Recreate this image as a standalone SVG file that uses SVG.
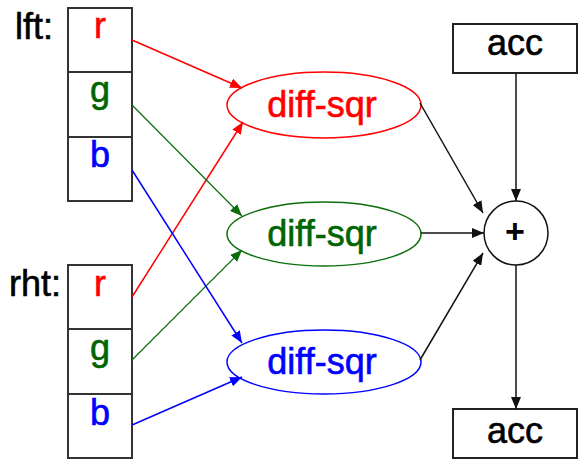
<svg xmlns="http://www.w3.org/2000/svg" width="580" height="461" viewBox="0 0 580 461">
  <style>
    text { font-family: "Liberation Sans", Arial, sans-serif; font-size: 36px; stroke: currentColor; stroke-width: 0.6px; }
    .mid { text-anchor: middle; }
    .cell { fill: #fff; stroke: #333; stroke-width: 2; }
    .box { fill: #fff; stroke: #222; stroke-width: 2; }
    .red { fill: #ff0000; color: #ff0000; }
    .grn { fill: #006400; color: #006400; }
    .blu { fill: #0000ff; color: #0000ff; }
    .blk { fill: #000; color: #000; }
    .lr { stroke: #ff0000; stroke-width: 1.5; fill: none; }
    .lg { stroke: #0b6e0b; stroke-width: 1.2; fill: none; }
    .lb { stroke: #0000ff; stroke-width: 1.5; fill: none; }
    .lk { stroke: #111; stroke-width: 1.5; fill: none; }
  </style>
  <defs>
    <marker id="ar" viewBox="0 0 12 10" refX="12" refY="5" markerWidth="12" markerHeight="10" markerUnits="userSpaceOnUse" orient="auto"><path d="M0,0 L12,5 L0,10 Z" fill="#ff0000"/></marker>
    <marker id="ag" viewBox="0 0 12 10" refX="12" refY="5" markerWidth="12" markerHeight="10" markerUnits="userSpaceOnUse" orient="auto"><path d="M0,0 L12,5 L0,10 Z" fill="#0b6e0b"/></marker>
    <marker id="ab" viewBox="0 0 12 10" refX="12" refY="5" markerWidth="12" markerHeight="10" markerUnits="userSpaceOnUse" orient="auto"><path d="M0,0 L12,5 L0,10 Z" fill="#0000ff"/></marker>
    <marker id="ak" viewBox="0 0 12 10" refX="12" refY="5" markerWidth="12" markerHeight="10" markerUnits="userSpaceOnUse" orient="auto"><path d="M0,0 L12,5 L0,10 Z" fill="#111"/></marker>
  </defs>

  <!-- left operand vector -->
  <g id="lft">
    <text class="blk" x="15" y="39">lft:</text>
    <rect class="cell" x="68" y="8" width="64" height="64"/>
    <rect class="cell" x="68" y="72" width="64" height="65"/>
    <rect class="cell" x="68" y="137" width="64" height="64"/>
    <text class="mid red" x="100" y="38">r</text>
    <text class="mid grn" x="100" y="102">g</text>
    <text class="mid blu" x="100" y="167">b</text>
  </g>

  <!-- right operand vector -->
  <g id="rht">
    <text class="blk" x="9" y="296">rht:</text>
    <rect class="cell" x="68" y="265" width="64" height="64"/>
    <rect class="cell" x="68" y="329" width="64" height="65"/>
    <rect class="cell" x="68" y="394" width="64" height="64"/>
    <text class="mid red" x="100" y="296">r</text>
    <text class="mid grn" x="100" y="360">g</text>
    <text class="mid blu" x="100" y="425">b</text>
  </g>

  <!-- squared differences -->
  <g id="diff-r">
    <ellipse cx="324" cy="105" rx="97" ry="33" fill="#fff" stroke="#ff0000" stroke-width="1.5"/>
    <text class="mid red" x="322" y="117">diff-sqr</text>
  </g>
  <g id="diff-g">
    <ellipse cx="324" cy="234" rx="97" ry="32" fill="#fff" stroke="#0b6e0b" stroke-width="1.5"/>
    <text class="mid grn" x="322" y="246">diff-sqr</text>
  </g>
  <g id="diff-b">
    <ellipse cx="324" cy="362" rx="97" ry="32" fill="#fff" stroke="#0000ff" stroke-width="1.5"/>
    <text class="mid blu" x="322" y="374">diff-sqr</text>
  </g>

  <!-- accumulator -->
  <g id="acc-in">
    <rect class="box" x="453" y="24" width="124" height="49"/>
    <text class="mid blk" x="515" y="55">acc</text>
  </g>
  <g id="sum">
    <circle cx="516" cy="233" r="32" fill="#fff" stroke="#111" stroke-width="1.5"/>
    <text class="mid blk" x="515" y="243" style="font-size:34px;font-weight:bold;stroke-width:0">+</text>
  </g>
  <g id="acc-out">
    <rect class="box" x="453" y="409" width="124" height="49"/>
    <text class="mid blk" x="515" y="443">acc</text>
  </g>

  <!-- data flow -->
  <g id="connectors">
    <line class="lr" x1="132" y1="40" x2="242" y2="88" marker-end="url(#ar)"/>
    <line class="lr" x1="132" y1="297" x2="243" y2="122" marker-end="url(#ar)"/>
    <line class="lg" x1="132" y1="105" x2="242" y2="216" marker-end="url(#ag)"/>
    <line class="lg" x1="132" y1="360" x2="242" y2="250" marker-end="url(#ag)"/>
    <line class="lb" x1="132" y1="170" x2="242" y2="343" marker-end="url(#ab)"/>
    <line class="lb" x1="132" y1="425" x2="242" y2="377" marker-end="url(#ab)"/>
    <line class="lk" x1="420" y1="103" x2="483" y2="213" marker-end="url(#ak)"/>
    <line class="lk" x1="421" y1="233" x2="484" y2="233" marker-end="url(#ak)"/>
    <line class="lk" x1="420" y1="360" x2="483" y2="253" marker-end="url(#ak)"/>
    <line class="lk" x1="516" y1="73" x2="516" y2="201" marker-end="url(#ak)"/>
    <line class="lk" x1="516" y1="265" x2="516" y2="409" marker-end="url(#ak)"/>
  </g>
</svg>
